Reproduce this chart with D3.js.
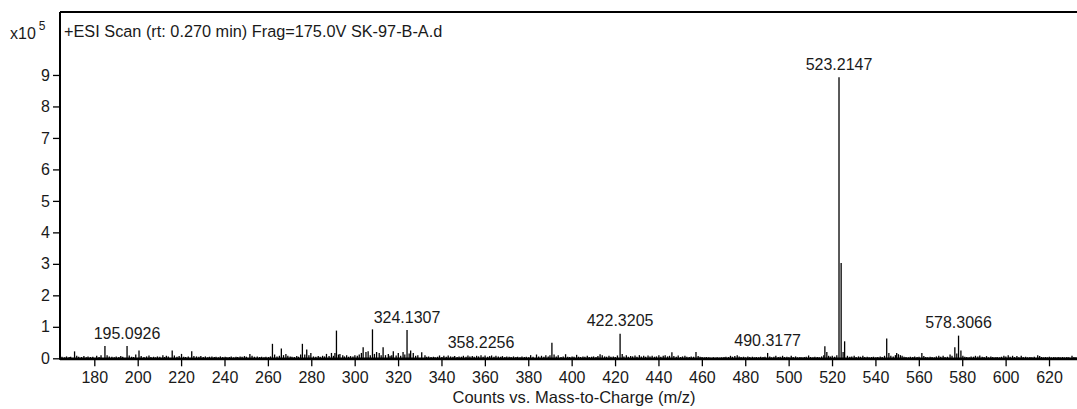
<!DOCTYPE html>
<html>
<head>
<meta charset="utf-8">
<script src="https://cdn.jsdelivr.net/npm/d3@7"></script>
<style>
  body { margin: 0; background: #fff; }
  text { font-family: "Liberation Sans", Arial, sans-serif; fill: #1a1a1a; }
</style>
</head>
<body>
<svg id="chart" width="1077" height="409"></svg>
<script>
// Centroided peaks: m/z and abundance (counts x 10^5)
const mz = [
  165.1,166.3,167.2,168.4,169.1,170.9,171.9,172.8,174.1,175.2,176.3,177.1,178.2,179.3,181.1,182.2,183.1,184.9,185.9,186.9,
  188.1,189.2,190.1,191.3,192.2,193.1,195.0926,196.1,197.2,198.1,199.1,200.6,201.6,202.9,204.1,205.2,206.1,207.3,208.2,209.1,
  210.2,211.6,212.4,213.2,214.1,215.9,216.9,218.1,219.1,220.2,221.2,222.1,223.3,224.9,225.9,227.1,228.2,229.1,230.2,231.2,
  232.3,233.1,234.2,235.3,236.1,237.2,238.1,239.2,240.3,241.1,242.2,243.1,244.2,245.3,246.1,247.2,248.1,249.2,250.1,251.7,
  252.7,253.8,255.1,256.2,257.1,258.2,259.1,260.3,261.2,262.1,263.1,264.2,265.3,266.2,267.2,268.3,269.2,270.3,271.1,272.2,
  273.3,274.1,275.1,275.9,277.0,277.9,278.9,279.8,281.0,282.1,283.2,284.1,285.2,286.1,287.0,288.2,289.3,290.2,290.9,291.6,
  292.5,293.2,294.5,295.3,296.3,297.2,298.1,299.2,300.1,301.2,302.1,303.1,303.9,305.2,306.2,307.2,308.2,309.1,310.1,311.3,
  312.2,313.1,314.2,315.5,316.3,317.1,317.8,319.1,320.1,321.2,322.3,323.1,324.1307,325.1,325.8,327.0,328.1,329.1,330.9,332.4,
  333.2,334.1,335.2,336.3,337.1,338.2,339.1,340.2,341.1,342.2,343.1,344.2,345.3,346.1,347.2,348.1,349.2,350.1,351.3,352.2,
  353.1,354.2,355.1,356.2,357.1,358.2256,359.2,360.1,361.3,362.2,363.1,364.2,365.1,366.2,367.3,368.1,369.2,370.1,371.2,372.1,
  373.2,374.3,375.1,376.2,377.1,378.2,379.1,380.2,381.1,382.2,383.8,384.8,386.1,387.2,388.1,389.2,390.0,390.9,391.9,392.9,
  393.8,395.1,396.1,397.2,398.2,399.1,400.2,401.1,402.3,403.2,404.1,405.2,406.1,407.2,408.1,409.2,410.1,411.2,412.1,413.1,
  414.1,415.2,416.1,417.2,418.1,419.2,420.1,421.1,422.3205,423.3,424.1,425.2,426.1,427.2,428.1,429.2,430.1,431.2,432.1,433.2,
  434.1,435.2,436.1,437.1,438.2,439.1,440.2,441.1,442.2,443.1,444.2,445.1,446.2,447.1,448.2,449.1,450.2,451.1,452.2,453.1,
  454.2,455.1,456.2,457.3,458.3,459.2,460.1,461.2,462.1,463.2,464.1,465.3,466.2,467.1,468.2,469.1,470.2,471.1,472.3,473.2,
  474.1,475.2,476.3,477.2,478.1,479.2,480.1,481.2,482.1,483.3,484.2,485.1,486.2,487.1,488.2,489.1,490.3177,491.3,492.1,493.2,
  494.1,495.2,496.1,497.2,498.1,499.2,500.1,501.2,502.1,503.2,504.1,505.2,506.1,507.2,508.1,509.2,510.1,511.2,512.1,513.2,
  514.1,515.2,516.2,516.7,517.6,518.4,519.2,520.1,521.2,522.2,523.2147,524.2,525.1,525.8,527.1,528.2,529.1,530.2,531.1,532.2,
  533.1,534.2,535.1,536.2,537.1,538.2,539.1,540.2,541.1,542.2,543.1,544.2,545.2,546.2,547.1,548.2,549.2,549.8,550.6,551.5,
  552.3,553.2,554.1,555.2,556.1,557.2,558.1,559.2,560.1,561.4,562.3,563.2,564.1,565.2,566.1,567.2,568.1,569.2,570.1,571.2,
  572.1,573.2,574.4,575.3,576.6,577.5,578.3066,579.4,580.3,581.2,582.1,583.2,584.1,585.2,586.1,587.2,588.1,589.2,590.1,591.2,
  592.1,593.2,594.1,595.2,596.1,597.2,598.1,599.2,600.1,601.2,602.1,603.2,604.1,605.2,606.1,607.2,608.1,609.2,610.1,611.2,
  612.1,613.2,614.8,615.7,616.6,617.5,618.4,619.3,620.2,621.1,622.2,623.1,624.2,625.1,626.2,627.1,628.2,629.1,630.6,631.5,
  632.4
];
const counts = [
  0.05,0.03,0.06,0.04,0.05,0.22,0.08,0.05,0.04,0.07,0.03,0.06,0.04,0.05,0.08,0.04,0.10,0.39,0.10,0.06,
  0.05,0.03,0.06,0.04,0.07,0.05,0.39,0.09,0.05,0.04,0.12,0.25,0.07,0.04,0.06,0.09,0.04,0.05,0.03,0.06,
  0.05,0.10,0.04,0.08,0.06,0.25,0.09,0.05,0.07,0.14,0.05,0.04,0.06,0.22,0.07,0.06,0.05,0.07,0.04,0.06,
  0.03,0.05,0.06,0.04,0.05,0.03,0.06,0.04,0.05,0.03,0.04,0.06,0.03,0.05,0.04,0.06,0.05,0.07,0.05,0.14,
  0.08,0.05,0.06,0.04,0.05,0.03,0.05,0.04,0.06,0.46,0.12,0.06,0.08,0.31,0.10,0.14,0.08,0.06,0.05,0.04,
  0.07,0.05,0.12,0.46,0.12,0.28,0.10,0.17,0.06,0.05,0.07,0.05,0.08,0.06,0.14,0.07,0.17,0.08,0.17,0.88,
  0.12,0.14,0.10,0.06,0.10,0.05,0.07,0.06,0.10,0.08,0.12,0.17,0.35,0.20,0.22,0.10,0.92,0.14,0.20,0.17,
  0.10,0.35,0.10,0.14,0.08,0.10,0.22,0.09,0.17,0.08,0.20,0.12,0.90,0.15,0.25,0.17,0.08,0.10,0.19,0.10,
  0.05,0.06,0.04,0.05,0.03,0.05,0.09,0.04,0.08,0.05,0.09,0.06,0.05,0.07,0.04,0.06,0.05,0.08,0.05,0.09,
  0.06,0.07,0.05,0.08,0.06,0.10,0.05,0.09,0.05,0.07,0.09,0.05,0.08,0.06,0.05,0.07,0.04,0.06,0.05,0.04,
  0.06,0.04,0.05,0.03,0.06,0.04,0.05,0.03,0.10,0.05,0.12,0.06,0.08,0.05,0.10,0.06,0.10,0.49,0.12,0.06,
  0.10,0.04,0.06,0.13,0.05,0.04,0.06,0.05,0.11,0.05,0.04,0.06,0.05,0.08,0.04,0.05,0.06,0.04,0.07,0.13,
  0.10,0.06,0.05,0.08,0.05,0.06,0.04,0.09,0.78,0.14,0.06,0.10,0.05,0.07,0.06,0.09,0.05,0.10,0.06,0.08,
  0.05,0.09,0.06,0.08,0.05,0.06,0.10,0.05,0.08,0.10,0.06,0.08,0.19,0.07,0.05,0.09,0.04,0.06,0.08,0.05,
  0.04,0.06,0.05,0.20,0.07,0.05,0.04,0.03,0.04,0.03,0.02,0.03,0.02,0.03,0.02,0.03,0.04,0.05,0.04,0.08,
  0.05,0.07,0.10,0.06,0.04,0.05,0.03,0.06,0.04,0.05,0.03,0.04,0.03,0.05,0.04,0.05,0.17,0.06,0.03,0.05,
  0.08,0.04,0.05,0.08,0.04,0.05,0.03,0.08,0.04,0.06,0.03,0.04,0.03,0.04,0.05,0.09,0.04,0.03,0.05,0.04,
  0.03,0.06,0.10,0.38,0.20,0.08,0.06,0.08,0.05,0.10,8.93,3.03,0.20,0.54,0.08,0.05,0.06,0.08,0.04,0.06,
  0.05,0.08,0.04,0.05,0.03,0.04,0.05,0.03,0.04,0.06,0.04,0.08,0.63,0.17,0.08,0.06,0.10,0.17,0.13,0.10,
  0.08,0.05,0.04,0.03,0.05,0.04,0.06,0.04,0.05,0.17,0.07,0.04,0.03,0.05,0.04,0.03,0.06,0.08,0.05,0.08,
  0.04,0.05,0.12,0.08,0.35,0.15,0.72,0.25,0.08,0.05,0.04,0.03,0.06,0.05,0.08,0.06,0.09,0.05,0.04,0.07,
  0.03,0.06,0.04,0.03,0.04,0.03,0.05,0.08,0.06,0.10,0.05,0.08,0.04,0.07,0.03,0.08,0.04,0.05,0.03,0.04,
  0.03,0.05,0.10,0.07,0.04,0.03,0.04,0.03,0.05,0.03,0.04,0.03,0.04,0.03,0.04,0.03,0.04,0.03,0.08,0.04,
  0.03
];
// Annotated peaks
const peakLabels = [195.0926, 324.1307, 358.2256, 422.3205, 490.3177, 523.2147, 578.3066];
const xTicks = d3.range(180, 621, 20);
const yTicks = d3.range(0, 10, 1);
const scanTitle = "+ESI Scan (rt: 0.270 min) Frag=175.0V SK-97-B-A.d";
const xAxisTitle = "Counts vs. Mass-to-Charge (m/z)";
const yExponent = "5";

const svg = d3.select("#chart");
const plotLeft = 60, plotRight = 1077, plotTop = 12, plotBottom = 358.3;

const x = d3.scaleLinear().domain([164.19, 632.9]).range([plotLeft, plotRight]);
const y = d3.scaleLinear().domain([0, 11]).range([plotBottom, plotTop]);

const peaks = mz.map((m, i) => ({ m, c: counts[i] }));

// peak sticks
svg.append("g")
  .selectAll("line")
  .data(peaks)
  .join("line")
  .attr("x1", d => x(d.m)).attr("x2", d => x(d.m))
  .attr("y1", y(0)).attr("y2", d => y(d.c))
  .attr("stroke", "#000")
  .attr("stroke-width", 1.3);

// frame: top edge and axes
svg.append("line")
  .attr("x1", plotLeft).attr("x2", plotRight).attr("y1", plotTop).attr("y2", plotTop)
  .attr("stroke", "#000").attr("stroke-width", 2);
svg.append("line")
  .attr("x1", plotLeft).attr("x2", plotLeft).attr("y1", plotTop).attr("y2", plotBottom + 1.5)
  .attr("stroke", "#000").attr("stroke-width", 2);
svg.append("line")
  .attr("x1", plotLeft).attr("x2", plotRight).attr("y1", plotBottom + 0.5).attr("y2", plotBottom + 0.5)
  .attr("stroke", "#000").attr("stroke-width", 2.8);

const xAxis = svg.append("g")
  .attr("transform", `translate(0,${plotBottom + 1})`)
  .call(d3.axisBottom(x).tickValues(xTicks).tickSize(7).tickSizeOuter(0).tickPadding(5));
xAxis.select(".domain").remove();
xAxis.selectAll("line").attr("stroke", "#000").attr("stroke-width", 1.3);
xAxis.selectAll("text").style("font-size", "16px").attr("fill", "#1a1a1a");

const yAxis = svg.append("g")
  .attr("transform", `translate(${plotLeft},0)`)
  .call(d3.axisLeft(y).tickValues(yTicks).tickSize(7).tickSizeOuter(0).tickPadding(3));
yAxis.select(".domain").remove();
yAxis.selectAll("line").attr("stroke", "#000").attr("stroke-width", 1.3);
yAxis.selectAll("text").style("font-size", "16px").attr("fill", "#1a1a1a");

// peak annotations
svg.append("g")
  .selectAll("text")
  .data(peakLabels)
  .join("text")
  .attr("x", m => x(m))
  .attr("y", m => y(counts[mz.indexOf(m)]) - 13)
  .attr("dy", "0.35em")
  .attr("text-anchor", "middle")
  .style("font-size", "16px")
  .text(m => m.toFixed(4));

// titles
svg.append("text").attr("x", 64).attr("y", 37).style("font-size", "16.3px").text(scanTitle);
svg.append("text").attr("x", 574).attr("y", 403).attr("text-anchor", "middle")
  .style("font-size", "16.5px").text(xAxisTitle);
const expLabel = svg.append("text").attr("x", 10).attr("y", 39).style("font-size", "16px");
expLabel.append("tspan").text("x10");
expLabel.append("tspan").attr("dx", 3).attr("dy", -9).style("font-size", "12px").text(yExponent);
</script>
</body>
</html>
